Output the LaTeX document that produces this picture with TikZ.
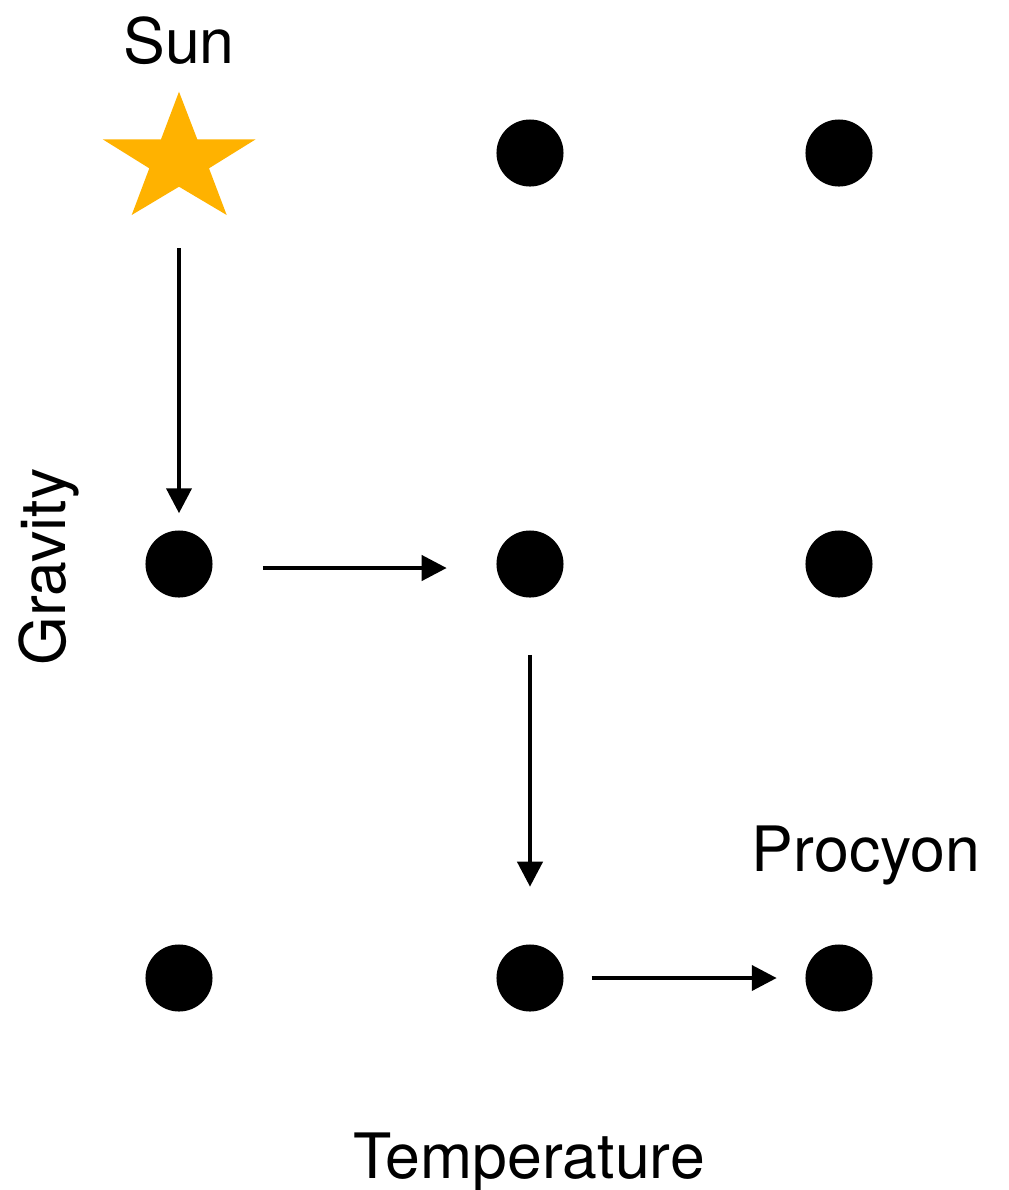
\documentclass[tikz,border=0pt]{standalone}
\usepackage{fontspec}
\setmainfont{TeX Gyre Heros}
\usetikzlibrary{arrows.meta}
\definecolor{sunorange}{HTML}{FFB200}
\tikzset{
  dot/.style={circle, fill=black, draw=none, inner sep=0pt, minimum size=0.67cm},
  label/.style={font=\fontsize{17.8}{21}\selectfont, inner sep=0pt, anchor=base},
  arr/.style={line width=0.046cm, -{Triangle[length=0.25cm, width=0.248cm]}},
}
\begin{document}
\begin{tikzpicture}[x=0.01cm, y=-0.01cm]
  \useasboundingbox (0,0) rectangle (1009,1190);

  % the Sun marker
  \fill[sunorange] (179,91.7) -- (197.3,139.3) -- (255.7,139.3) -- (209,168.3)
    -- (226.7,215) -- (179,186.7) -- (131.7,215) -- (149.3,168.3)
    -- (102.7,139.3) -- (161,139.3) -- cycle;
  \coordinate (sun) at (179,155);

  % grid of stars
  \node[dot] (d12) at (530,153) {};
  \node[dot] (d13) at (839,153) {};
  \node[dot] (d21) at (179,564) {};
  \node[dot] (d22) at (530,564) {};
  \node[dot] (d23) at (839,564) {};
  \node[dot] (d31) at (179,978) {};
  \node[dot] (d32) at (530,978) {};
  \node[dot] (d33) at (839,978) {};

  % labels
  \node[label] (lsun) at (179,63) {Sun};
  \node[label] (lpro) at (866,871) {Procyon};
  \node[label] (ltemp) at (529,1178) {Temperature};
  \node[label, rotate=90] (lgrav) at (65,567) {Gravity};

  % path from the Sun to Procyon
  \draw[arr, shorten <=0.93cm, shorten >=0.165cm] (sun) -- (d21);
  \draw[arr, shorten <=0.495cm, shorten >=0.49cm]
    ([yshift=-0.04cm]d21.east) -- ([yshift=-0.04cm]d22.west);
  \draw[arr, shorten <=0.565cm, shorten >=0.57cm] (d22) -- (d32);
  \draw[arr, shorten <=0.275cm, shorten >=0.28cm] (d32) -- (d33);
\end{tikzpicture}
\end{document}
